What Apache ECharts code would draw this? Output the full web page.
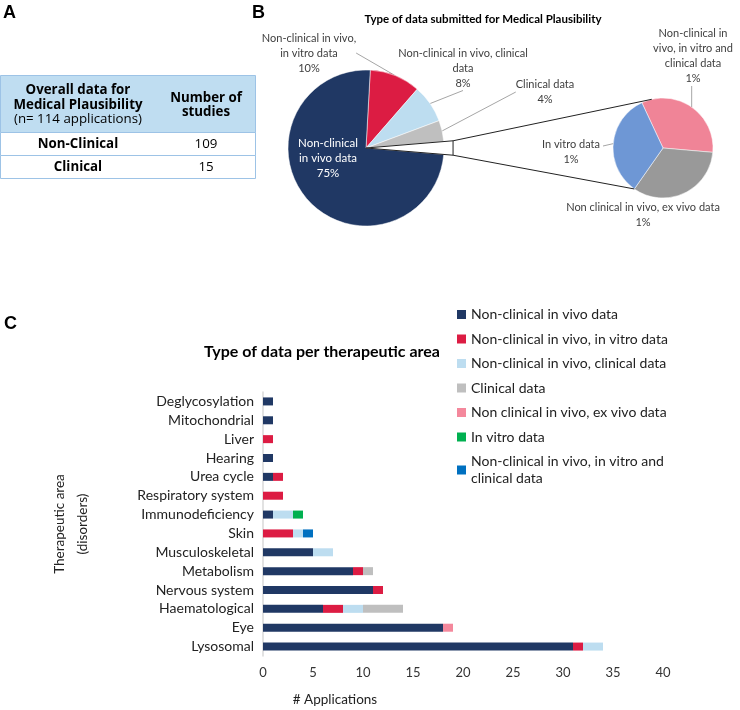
<!DOCTYPE html>
<html>
<head>
<meta charset="utf-8">
<script src="https://cdn.jsdelivr.net/npm/echarts@6/dist/echarts.min.js"></script>
<style>
  html, body { margin: 0; padding: 0; background: #fff; }
  #chart { width: 740px; height: 710px; }
</style>
</head>
<body>
<div id="chart"></div>
<script>
// ---- panel A : table
const tableRows = ['Non-Clinical', 'Clinical'];
const tableCounts = [109, 15];

// ---- panel B : pie of pie
const mainNames = ['Non-clinical in vivo,\nin vitro data', 'Non-clinical in vivo, clinical\ndata', 'Clinical data', 'Other', 'Non-clinical\nin vivo data'];
const mainValues = [12, 9, 5, 3, 85];
const subNames = ['Non-clinical in\nvivo, in vitro and\nclinical data', 'Non clinical in vivo, ex vivo data', 'In vitro data'];
const subValues = [1, 1, 1];

// ---- panel C : stacked bars (top to bottom)
const areas = ['Deglycosylation', 'Mitochondrial', 'Liver', 'Hearing', 'Urea cycle', 'Respiratory system', 'Immunodeficiency', 'Skin', 'Musculoskeletal', 'Metabolism', 'Nervous system', 'Haematological', 'Eye', 'Lysosomal'];
const seriesNames = ['Non-clinical in vivo data', 'Non-clinical in vivo, in vitro data', 'Non-clinical in vivo, clinical data', 'Clinical data', 'Non clinical in vivo, ex vivo data', 'In vitro data', 'Non-clinical in vivo, in vitro and clinical data'];
const inVivo         = [1, 1, 0, 1, 1, 0, 1, 0, 5, 9, 11, 6, 18, 31];
const inVivoInVitro  = [0, 0, 1, 0, 1, 2, 0, 3, 0, 1, 1, 2, 0, 1];
const inVivoClinical = [0, 0, 0, 0, 0, 0, 2, 1, 2, 0, 0, 2, 0, 2];
const clinicalOnly   = [0, 0, 0, 0, 0, 0, 0, 0, 0, 1, 0, 4, 0, 0];
const exVivo         = [0, 0, 0, 0, 0, 0, 0, 0, 0, 0, 0, 0, 1, 0];
const inVitroOnly    = [0, 0, 0, 0, 0, 0, 1, 0, 0, 0, 0, 0, 0, 0];
const allThree       = [0, 0, 0, 0, 0, 0, 0, 1, 0, 0, 0, 0, 0, 0];
const xTicks = { min: 0, max: 40, step: 5 };

const barColors = ['#203864', '#DC1C43', '#BDDDF0', '#BFBFBF', '#F4889C', '#00B050', '#0070C0'];
const mainColors = ['#DC1C43', '#BDDDF0', '#BFBFBF', '#ffffff', '#203864'];
const subColors = ['#F08497', '#999999', '#6E97D5'];

const FONT = 'Lato, "Open Sans", sans-serif';
const TFONT = '"Open Sans", sans-serif';

const total = mainValues.reduce((a, b) => a + b, 0);

// pie geometry
const mainC = [366, 148], mainR = 78;
const subC = [663, 148], subR = 50;
const subStart = 115;
const before = mainValues[0] + mainValues[1] + mainValues[2];
const other = mainValues[3];
const mainStart = 360 * (before + other / 2) / total; // centre "Other" on the horizontal
const a1 = (mainStart - 360 * before / total) * Math.PI / 180;
const a2 = (mainStart - 360 * (before + other) / total) * Math.PI / 180;
const rb = mainR * 1.12;
const p1 = [mainC[0] + rb * Math.cos(a1), mainC[1] - rb * Math.sin(a1)];
const p2 = [mainC[0] + rb * Math.cos(a2), mainC[1] - rb * Math.sin(a2)];
const t1a = 103 * Math.PI / 180, t2a = 235 * Math.PI / 180;
const t1 = [subC[0] + subR * Math.cos(t1a), subC[1] - subR * Math.sin(t1a)];
const t2 = [subC[0] + subR * Math.cos(t2a), subC[1] - subR * Math.sin(t2a)];

// label anchor points (pixels)
const mainLabelPos = [[309, 53], [463, 68], [545, 92], null, [328, 158]];
const subLabelPos = [[693, 56], [643, 215], [571, 152]];
const subLabelWidth = [110, 180, 66];

// point on the rim of the sub pie at the middle of slice i
function subRim(i) {
  const subTotal = subValues.reduce((a, b) => a + b, 0);
  let cum = 0;
  for (let k = 0; k < i; k++) cum += subValues[k];
  const a = (subStart - 360 * (cum + subValues[i] / 2) / subTotal) * Math.PI / 180;
  return [subC[0] + subR * Math.cos(a), subC[1] - subR * Math.sin(a)];
}

function txt(text, x, y, size, weight, family, align, color) {
  return {
    type: 'text', x: x, y: y, silent: true,
    style: {
      text: text, fill: color || '#000', align: align || 'center', verticalAlign: 'middle',
      fontSize: size, fontWeight: weight || 'normal', fontFamily: family || FONT
    }
  };
}

const graphics = [];
// panel letters & titles
graphics.push(txt('A', 3, 13, 18, 'bold', 'Liberation Sans, Arial', 'left'));
graphics.push(txt('B', 252, 13, 18, 'bold', 'Liberation Sans, Arial', 'left'));
graphics.push(txt('C', 4, 324, 18, 'bold', 'Liberation Sans, Arial', 'left'));
graphics.push(txt('Type of data submitted for Medical Plausibility', 483, 19, 11.5, 'bold'));
graphics.push(txt('Type of data per therapeutic area', 322, 352, 16, 'bold'));
graphics.push(txt('# Applications', 335, 700, 13.5, 'normal', FONT, 'center', '#222'));

// table
graphics.push({ type: 'rect', shape: { x: 0.5, y: 75.5, width: 255, height: 57 }, style: { fill: '#BFDDF1', stroke: '#9DC3E6', lineWidth: 1 } });
graphics.push({ type: 'rect', shape: { x: 0.5, y: 132.5, width: 255, height: 23 }, style: { fill: '#fff', stroke: '#9DC3E6', lineWidth: 1 } });
graphics.push({ type: 'rect', shape: { x: 0.5, y: 155.5, width: 255, height: 23 }, style: { fill: '#fff', stroke: '#9DC3E6', lineWidth: 1 } });
graphics.push(txt('Overall data for', 78, 90, 13.3, 'bold', TFONT));
graphics.push(txt('Medical Plausibility', 78, 105, 13.3, 'bold', TFONT));
graphics.push(txt('(n= 114 applications)', 78, 119, 13.3, 'normal', TFONT));
graphics.push(txt('Number of', 206, 98, 13.3, 'bold', TFONT));
graphics.push(txt('studies', 206, 112, 13.3, 'bold', TFONT));
tableRows.forEach((r, i) => {
  graphics.push(txt(r, 78, 144 + i * 23, 13.3, 'bold', TFONT));
  graphics.push(txt(String(tableCounts[i]), 206, 144 + i * 23, 13.3, 'normal', TFONT));
});

// pie-of-pie connectors
graphics.push({ type: 'polyline', z: 100, silent: true, shape: { points: [mainC, p1, p2, mainC] }, style: { stroke: '#222', lineWidth: 1, fill: null } });
graphics.push({ type: 'line', z: 100, silent: true, shape: { x1: p1[0], y1: p1[1], x2: t1[0], y2: t1[1] }, style: { stroke: '#222', lineWidth: 1 } });
graphics.push({ type: 'line', z: 100, silent: true, shape: { x1: p2[0], y1: p2[1], x2: t2[0], y2: t2[1] }, style: { stroke: '#222', lineWidth: 1 } });

// leader lines of the sub pie labels
const rim0 = subRim(0), rim2 = subRim(2);
graphics.push({ type: 'line', z: 100, silent: true, shape: { x1: rim0[0], y1: rim0[1], x2: rim0[0], y2: subLabelPos[0][1] + 30 }, style: { stroke: '#A6A6A6', lineWidth: 1 } });
graphics.push({ type: 'line', z: 100, silent: true, shape: { x1: rim2[0], y1: rim2[1], x2: subLabelPos[2][0] + 32, y2: subLabelPos[2][1] - 6 }, style: { stroke: '#A6A6A6', lineWidth: 1 } });

const barData = [inVivo, inVivoInVitro, inVivoClinical, clinicalOnly, exVivo, inVitroOnly, allThree];
const barSeries = seriesNames.map((name, i) => ({
  name: name,
  type: 'bar',
  stack: 'total',
  barWidth: 8,
  itemStyle: { color: barColors[i] },
  emphasis: { disabled: true },
  data: barData[i]
}));

const pieLabel = { fontFamily: FONT, fontSize: 11, lineHeight: 15, color: '#404040' };

const option = {
  animation: false,
  backgroundColor: '#fff',
  textStyle: { fontFamily: FONT },
  graphic: graphics,
  legend: {
    orient: 'vertical',
    left: 457,
    top: 306,
    padding: 0,
    itemWidth: 9,
    itemHeight: 9,
    itemGap: 7.5,
    icon: 'rect',
    selectedMode: false,
    data: seriesNames,
    textStyle: { fontFamily: FONT, fontSize: 14, lineHeight: 17, color: '#222' },
    formatter: n => n === seriesNames[6] ? 'Non-clinical in vivo, in vitro and\nclinical data' : n
  },
  grid: { left: 263, right: 77, top: 392, bottom: 54 },
  xAxis: {
    type: 'value',
    min: xTicks.min, max: xTicks.max, interval: xTicks.step,
    axisLine: { show: false },
    axisTick: { show: false },
    splitLine: { show: false },
    axisLabel: { fontFamily: FONT, fontSize: 13, color: '#333', margin: 10 }
  },
  yAxis: {
    type: 'category',
    inverse: true,
    data: areas,
    name: 'Therapeutic area\n(disorders)',
    nameLocation: 'middle',
    nameRotate: 90,
    nameGap: 169,
    nameMoveOverlap: false,
    nameTextStyle: { fontFamily: FONT, fontSize: 13.5, lineHeight: 23, color: '#222' },
    axisLine: { lineStyle: { color: '#D9D9D9', width: 1.5 } },
    axisTick: { show: false },
    axisLabel: { fontFamily: FONT, fontSize: 14, color: '#222', margin: 9 }
  },
  series: barSeries.concat([
    {
      type: 'pie',
      center: mainC,
      radius: mainR,
      startAngle: mainStart,
      clockwise: true,
      percentPrecision: 0,
      emphasis: { disabled: true },
      silent: true,
      itemStyle: { borderColor: '#fff', borderWidth: 0.5 },
      label: Object.assign({ formatter: '{b}\n{d}%' }, pieLabel),
      labelLine: { length: 10, length2: 0, lineStyle: { color: '#A6A6A6', width: 1 } },
      labelLayout: p => {
        const q = mainLabelPos[p.dataIndex];
        return q ? { x: q[0], y: q[1], align: 'center', verticalAlign: 'middle' } : {};
      },
      data: mainValues.map((v, i) => {
        const d = { name: mainNames[i], value: v, itemStyle: { color: mainColors[i] } };
        if (i === 3) {
          d.itemStyle.borderWidth = 0;
          d.label = { show: false };
          d.labelLine = { show: false };
        }
        if (i === 4) {
          d.label = { position: 'inside', color: '#fff', fontSize: 11.5 };
          d.labelLine = { show: false };
        }
        return d;
      })
    },
    {
      type: 'pie',
      center: subC,
      radius: subR,
      startAngle: subStart,
      clockwise: true,
      emphasis: { disabled: true },
      silent: true,
      itemStyle: { borderColor: '#fff', borderWidth: 0.5 },
      label: Object.assign({
        formatter: p => p.name + '\n' + Math.round(p.value / total * 100) + '%'
      }, pieLabel),
      labelLine: { show: false },
      labelLayout: p => {
        const q = subLabelPos[p.dataIndex];
        return { x: q[0], y: q[1], align: 'center', verticalAlign: 'middle' };
      },
      data: subValues.map((v, i) => ({
        name: subNames[i], value: v,
        itemStyle: { color: subColors[i] },
        label: { width: subLabelWidth[i], overflow: 'none' }
      }))
    }
  ])
};

const chart = echarts.init(document.getElementById('chart'));
chart.setOption(option);
</script>
</body>
</html>
